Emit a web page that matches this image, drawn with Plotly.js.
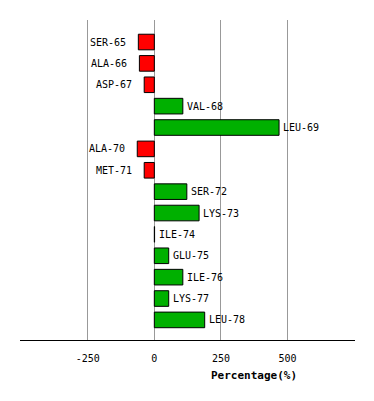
<!DOCTYPE html>
<html><head><meta charset="utf-8">
<script src="https://cdn.plot.ly/plotly-3.0.1.min.js"></script>
<style>html,body{margin:0;padding:0;background:#fff}#chart{width:374px;height:401px}</style>
</head><body><div id="chart"></div>
<script>
const residues = ["SER-65","ALA-66","ASP-67","VAL-68","LEU-69","ALA-70","MET-71","SER-72","LYS-73","ILE-74","GLU-75","ILE-76","LYS-77","LEU-78"];
const percentages = [-60, -56, -38, 107, 468, -64, -38, 122, 168, 1, 54, 107, 54, 189];
const tickValues = [-250, 0, 250, 500];
const xTitle = "Percentage(%)";

const colors = percentages.map(v => v < 0 ? "#ff0000" : "#00b000");
const font = "DejaVu Sans Mono, monospace";

const annotations = residues.map((r, i) => {
  const v = percentages[i];
  return {
    x: v, y: r, xref: "x", yref: "y", text: r, showarrow: false,
    xanchor: v < 0 ? "right" : "left",
    xshift: v < 0 ? -10 : 2,
    font: {family: font, size: 10, color: "#000"}
  };
});
annotations.push({
  x: (254 - 20) / (374 - 20 - 19), y: (401 - 61 - 375) / (401 - 20 - 61),
  xref: "paper", yref: "paper", text: "<b>" + xTitle + "</b>",
  showarrow: false, xanchor: "center", yanchor: "middle",
  font: {family: font, size: 11, color: "#000"}
});

Plotly.newPlot("chart", [{
  type: "bar", orientation: "h",
  x: percentages, y: residues,
  marker: {color: colors, line: {color: "#000", width: 1}},
  width: 0.73,
  hoverinfo: "none"
}], {
  width: 374, height: 401,
  margin: {l: 20, r: 19, t: 20, b: 61},
  paper_bgcolor: "#fff", plot_bgcolor: "#fff",
  showlegend: false,
  xaxis: {
    range: [-504, 753], tickvals: tickValues, ticktext: tickValues.map(String),
    showgrid: true, gridcolor: "#999", gridwidth: 1, zeroline: false,
    showline: true, linecolor: "#000", linewidth: 1, ticks: "",
    ticklabelstandoff: 9,
    tickfont: {family: font, size: 10, color: "#000"}
  },
  yaxis: {
    type: "category", range: [13.94, -1.03],
    showticklabels: false, showgrid: false, zeroline: false, ticks: ""
  },
  annotations: annotations
}, {staticPlot: true});
</script></body></html>
